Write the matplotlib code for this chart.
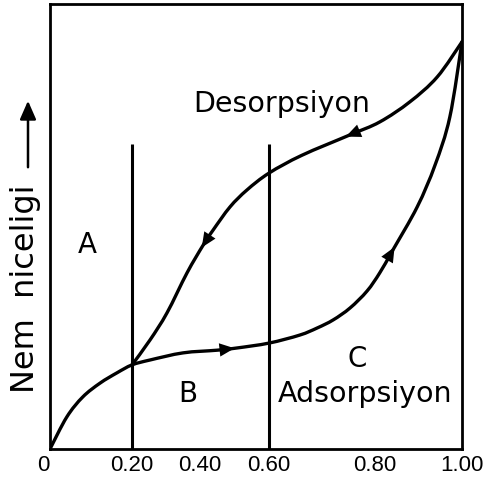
import numpy as np
import matplotlib
matplotlib.use("Agg")
import matplotlib.pyplot as plt
from matplotlib.path import Path
from matplotlib.patches import PathPatch, FancyArrowPatch

# ---------------- data ----------------
ads_rh = [0.0, 0.041, 0.080, 0.122, 0.163, 0.2, 0.253, 0.350, 0.449, 0.507, 0.6,
          0.658, 0.691, 0.721, 0.753, 0.785, 0.811, 0.841, 0.897, 0.938, 0.972, 1.0]
ads_m = [0.0, 0.072, 0.117, 0.148, 0.171, 0.189, 0.200, 0.216, 0.222, 0.227, 0.238,
         0.256, 0.272, 0.290, 0.317, 0.355, 0.396, 0.447, 0.544, 0.638, 0.746, 0.915]

des_rh = [0.2, 0.253, 0.303, 0.362, 0.409, 0.438, 0.487, 0.536, 0.6, 0.662,
          0.753, 0.811, 0.880, 0.943, 1.0]
des_m = [0.189, 0.245, 0.306, 0.396, 0.458, 0.492, 0.544, 0.582, 0.620, 0.660,
         0.706, 0.735, 0.780, 0.836, 0.915]

boundaries = [0.2, 0.6]
boundary_top = 0.685

tick_values = [0.0, 0.2, 0.4, 0.6, 0.8, 1.0]
tick_labels = ["0", "0.20", "0.40", "0.60", "0.80", "1.00"]

region_labels = ["A", "B", "C"]
region_x = [0.090, 0.365, 0.766]
region_y = [0.441, 0.106, 0.185]

# ---------------- layout: hand-drawn (non-linear) humidity axis ----------------
RH_KNOTS = np.array([0.0, 0.2, 0.4, 0.6, 0.8, 1.0])
POS_KNOTS = np.array([0, 82, 150, 219, 325, 412]) / 412.0


def fwd(x):
    return np.interp(np.asarray(x, dtype=float), RH_KNOTS, POS_KNOTS)


def inv(p):
    return np.interp(np.asarray(p, dtype=float), POS_KNOTS, RH_KNOTS)


plt.rcParams["font.family"] = ["DejaVu Sans"]

fig = plt.figure(figsize=(4.83, 4.87), dpi=100)
ax = fig.add_axes([50 / 483, 38 / 487, 412 / 483, 445 / 487])
ax.set_xscale("function", functions=(fwd, inv))
ax.set_xlim(0, 1)
ax.set_ylim(0, 1)


def smooth_curve(xs, ys, lw):
    """Draw a smooth (Catmull-Rom -> Bezier) curve through the read points."""
    u = fwd(xs)
    v = np.asarray(ys, dtype=float)
    P = np.column_stack([u, v])
    n = len(P)
    verts = [P[0]]
    codes = [Path.MOVETO]
    for i in range(n - 1):
        p0 = P[i - 1] if i > 0 else P[i]
        p1 = P[i]
        p2 = P[i + 1]
        p3 = P[i + 2] if i + 2 < n else P[i + 1]
        c1 = p1 + (p2 - p0) / 6.0
        c2 = p2 - (p3 - p1) / 6.0
        verts += [c1, c2, p2]
        codes += [Path.CURVE4] * 3
    verts = np.array(verts)
    verts[:, 0] = inv(verts[:, 0])
    ax.add_patch(PathPatch(Path(verts, codes), fill=False, lw=lw,
                           edgecolor="black", capstyle="round", joinstyle="round"))


smooth_curve(ads_rh, ads_m, 2.4)
smooth_curve(des_rh, des_m, 2.4)
ax.vlines(boundaries, 0, boundary_top, color="black", lw=2.2)


def arrow_on(xs, ys, x_at, forward=True):
    d = 0.025 if forward else -0.025
    x0 = x_at - d
    y0 = np.interp(x0, xs, ys)
    y1 = np.interp(x_at, xs, ys)
    ax.annotate("", xy=(x_at, y1), xytext=(x0, y0),
                arrowprops=dict(arrowstyle="-|>,head_length=0.9,head_width=0.4",
                                color="black", lw=0, shrinkA=0, shrinkB=0,
                                mutation_scale=12))


arrow_on(ads_rh, ads_m, 0.50, True)
arrow_on(ads_rh, ads_m, 0.845, True)
arrow_on(des_rh, des_m, 0.745, False)
arrow_on(des_rh, des_m, 0.405, False)

for s in ax.spines.values():
    s.set_linewidth(2.0)

ax.set_yticks([])
ax.set_xticks(tick_values)
ax.set_xticklabels(tick_labels, family=["Liberation Sans", "DejaVu Sans"],
                   fontsize=16)
ax.tick_params(axis="x", length=0, pad=4)
labs = ax.get_xticklabels()
labs[0].set_ha("right")

for t, x, y in zip(region_labels, region_x, region_y):
    ax.text(x, y, t, ha="center", va="baseline", fontsize=20)

ax.text(0.623, 0.757, "Desorpsiyon", ha="center", va="baseline", fontsize=20.5)
ax.text(0.781, 0.106, "Adsorpsiyon", ha="center", va="baseline", fontsize=20.5)

# y-axis label with upward arrow
fig.text(0.052, 0.407, "Nem  niceligi", rotation=90, ha="center", va="center",
         fontsize=23)
fig.add_artist(FancyArrowPatch(
    (28 / 483, (487 - 170) / 487), (28 / 483, (487 - 98) / 487),
    transform=fig.transFigure, arrowstyle="-|>,head_length=0.8,head_width=0.35",
    mutation_scale=14, color="black", lw=1.8))

fig.savefig("out.png", dpi=100)
